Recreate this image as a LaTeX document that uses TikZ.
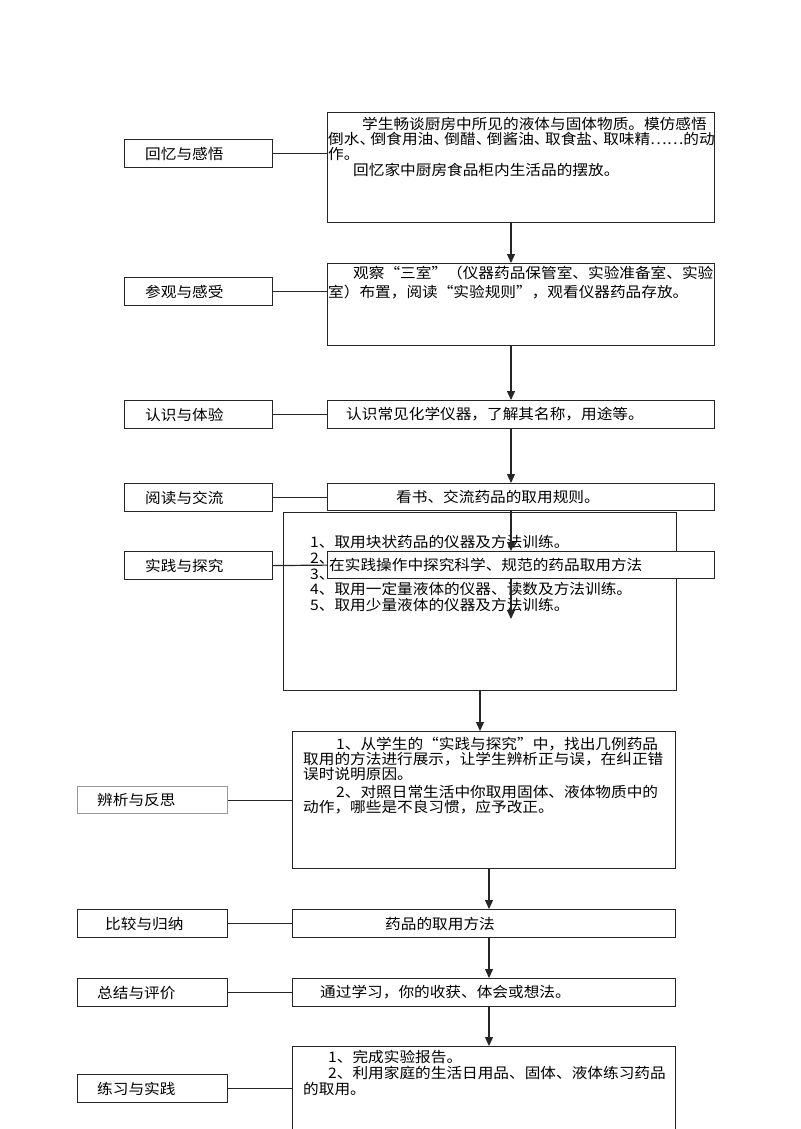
\documentclass[tikz,border=0pt]{standalone}
\usepackage{fontspec}
\setmainfont[FakeStretch=1.08]{Noto Sans CJK SC}
\usetikzlibrary{arrows.meta,positioning,calc}

\begin{document}
\begin{tikzpicture}[x=1pt,y=-1pt,
	font=\fontsize{14.5}{15.5}\selectfont,
	box/.style={draw=black!85, line width=1.2pt, rectangle, inner sep=0pt, anchor=north west},
	lbox/.style={box, minimum width=148pt, minimum height=28pt},
	rbox/.style={box, minimum width=387pt},
	lbl/.style={inner sep=0pt, anchor=west},
	txt/.style={inner sep=0pt, anchor=base west, align=left},
	link/.style={black!85, line width=1.2pt},
	flow/.style={link, -{Triangle[length=9pt,width=8pt]}}]
	\clip (0,0) rectangle (800,1129);
	\fill[white] (0,0) rectangle (800,1129);
	\coordinate (ax) at (511,0);
	\coordinate (bx) at (480,0);
	\coordinate (cx) at (489,0);

	% upper part
	\node[lbox] (l1) at (124,139) {};
	\node[lbox] (l2) at (124,277) {};
	\node[lbox] (l3) at (124,400) {};
	\node[lbox] (l4) at (124,483) {};
	\node[lbox] (l5) at (124,551) {};
	\node[lbl, right=21pt of l1.west] (l1t) {回忆与感悟};
	\node[lbl, right=21pt of l2.west] (l2t) {参观与感受};
	\node[lbl, right=21pt of l3.west] (l3t) {认识与体验};
	\node[lbl, right=21pt of l4.west] (l4t) {阅读与交流};
	\node[lbl, right=21pt of l5.west] (l5t) {实践与探究};

	\node[rbox, minimum height=110pt] (s1) at (327,112) {};
	\node[rbox, minimum height=82pt] (s2) at (327,263) {};
	\node[rbox, minimum height=28pt] (s3) at (327,400) {};
	\node[rbox, minimum height=27pt] (s4) at (327,483) {};
	% multi-line texts sit on the baseline of their last line
	\node[txt, font=\fontsize{14.5}{15}\selectfont] (s1t) at (328,175.5)
		{\hspace*{34pt}学生畅谈厨房中所见的液体与固体物质。模仿感悟\\
		倒水、\kern-4.5pt倒食用油、\kern-4.5pt倒醋、\kern-4.5pt倒酱油、\kern-4.5pt取食盐、\kern-4.5pt取味精……的动\\
		作。\\[1.5pt]
		\hspace*{25pt}回忆家中厨房食品柜内生活品的摆放。};
	\node[txt, font=\fontsize{14.5}{19}\selectfont] (s2t) at (328,297.5)
		{\hspace*{25pt}观察“三室”（仪器药品保管室、实验准备室、实验\\
		室）布置，阅读“实验规则”，观看仪器药品存放。};
	\node[lbl, right=19pt of s3.west] (s3t) {认识常见化学仪器，了解其名称，用途等。};
	\node[lbl, right=69pt of s4.west] (s4t) {看书、交流药品的取用规则。};

	% practice block
	\node[box, minimum width=393pt, minimum height=178pt] (p) at (283,512) {};
	\node[txt, font=\fontsize{14.5}{15.75}\selectfont] (pt) at (310,610.5)
		{1、取用块状药品的仪器及方法训练。\\
		2、\\
		3、\\
		4、取用一定量液体的仪器、读数及方法训练。\\
		5、取用少量液体的仪器及方法训练。};
	\coordinate (tip) at (511,619);

	\draw[link] (l1.east) -- (l1.east -| s1.west);
	\draw[link] (l2.east) -- (l2.east -| s2.west);
	\draw[link] (l3.east) -- (l3.east -| s3.west);
	\draw[link] (l4.east) -- (l4.east -| s4.west);
	\draw[flow] (s1.south -| ax) -- (s2.north -| ax);
	\draw[flow] (s2.south -| ax) -- (s3.north -| ax);
	\draw[flow] (s3.south -| ax) -- (s4.north -| ax);

	\node[rbox, fill=white, minimum height=27pt] (s5) at (327,551) {};
	\node[lbl, right=2pt of s5.west] (s5t) {在实践操作中探究科学、规范的药品取用方法};
	\draw[link] (l5.east) -- (s5.west);
	\draw[flow] (s4.south -| ax) -- (s5.north -| ax);
	\draw[flow] (s5.south -| ax) -- (tip);

	% lower part
	\node[box, minimum width=150pt, minimum height=27pt, draw=black!40] (l6) at (77,786) {};
	\node[box, minimum width=150pt, minimum height=28pt] (l7) at (77,909) {};
	\node[box, minimum width=150pt, minimum height=28pt] (l8) at (77,978) {};
	\node[box, minimum width=150pt, minimum height=28pt] (l9) at (77,1074) {};
	\node[lbl, right=20pt of l6.west] (l6t) {辨析与反思};
	\node[lbl, right=28pt of l7.west] (l7t) {比较与归纳};
	\node[lbl, right=20pt of l8.west] (l8t) {总结与评价};
	\node[lbl, right=20pt of l9.west] (l9t) {练习与实践};

	\node[box, minimum width=383pt, minimum height=137pt] (r1) at (292,731) {};
	\node[box, minimum width=383pt, minimum height=28pt] (r2) at (292,909) {};
	\node[box, minimum width=383pt, minimum height=28pt] (r3) at (292,978) {};
	\node[box, minimum width=383pt, minimum height=110pt] (r4) at (292,1046) {};
	\node[txt, font=\fontsize{14.5}{15}\selectfont] (r1t) at (303,812.5)
		{\hspace*{33pt}1、从学生的“实践与探究”中，找出几例药品\\
		取用的方法进行展示，让学生辨析正与误，在纠正错\\
		误时说明原因。\\[3pt]
		\hspace*{33pt}2、对照日常生活中你取用固体、液体物质中的\\
		动作，哪些是不良习惯，应予改正。};
	\node[lbl, right=93pt of r2.west] (r2t) {药品的取用方法};
	\node[lbl, right=28pt of r3.west] (r3t) {通过学习，你的收获、体会或想法。};
	\node[txt, font=\fontsize{14.5}{16}\selectfont] (r4t) at (303,1094.5)
		{\hspace*{25pt}1、完成实验报告。\\
		\hspace*{25pt}2、利用家庭的生活日用品、固体、液体练习药品\\
		的取用。};

	\draw[link] (l6.east) -- (l6.east -| r1.west);
	\draw[link] (l7.east) -- (r2.west);
	\draw[link] (l8.east) -- (r3.west);
	\draw[link] (l9.east) -- (l9.east -| r4.west);
	\draw[flow] (p.south -| bx) -- (r1.north -| bx);
	\draw[flow] (r1.south -| cx) -- (r2.north -| cx);
	\draw[flow] (r2.south -| cx) -- (r3.north -| cx);
	\draw[flow] (r3.south -| cx) -- (r4.north -| cx);
\end{tikzpicture}
\end{document}
